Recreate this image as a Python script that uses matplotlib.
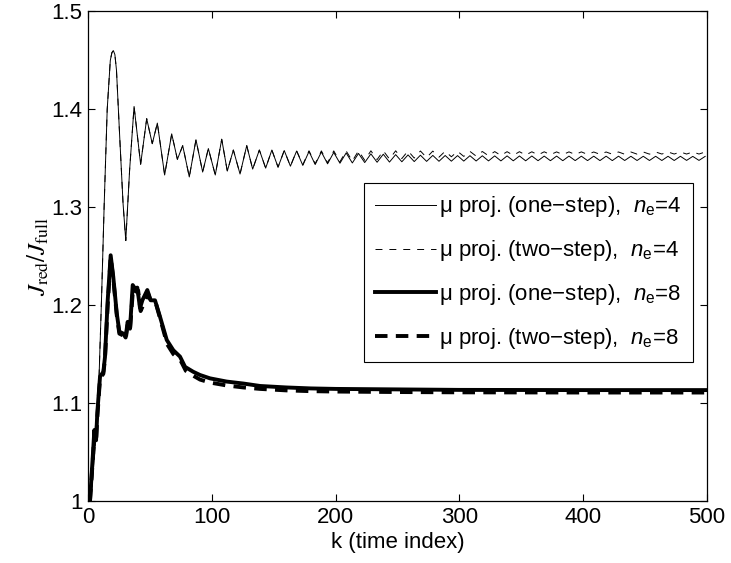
import matplotlib
matplotlib.use("Agg")
import matplotlib.pyplot as plt

plt.rcParams['font.family'] = ['Liberation Sans', 'DejaVu Sans']
plt.rcParams['mathtext.fontset'] = 'custom'
plt.rcParams['mathtext.rm'] = 'Liberation Sans'
plt.rcParams['mathtext.it'] = 'Liberation Sans:italic'
plt.rcParams['lines.scale_dashes'] = False

# n_e = 4: start-up part (both methods coincide here), then peaks/troughs of the ripple
k4_head = [1.5, 3, 6, 9, 11, 13, 15.5, 18, 19.3, 20.5, 21.7, 23, 25.6, 28.3, 30.5, 33.6, 37.2,
           42.5, 47.4, 51.9, 56, 61.9, 67.6, 72.2, 76.5, 81.8, 87.2, 92.6, 97.2, 102.8, 108,
           112.5, 117.4, 122.8, 128.2, 133, 138.4]
y4_head = [1.0, 1.01, 1.06, 1.13, 1.21, 1.30, 1.40, 1.45, 1.458, 1.46, 1.456, 1.44, 1.372, 1.304,
           1.266, 1.338, 1.403, 1.344, 1.3905, 1.365, 1.386, 1.333, 1.375, 1.349, 1.363, 1.331,
           1.369, 1.336, 1.360, 1.333, 1.3695, 1.337, 1.3585, 1.334, 1.363, 1.339, 1.3585]

k4_tail = [143.5, 148.5, 153.5, 158.5, 163.5, 168.5, 173.5, 178.5, 183.5, 188.5, 193.5, 198.5,
           203.5, 208.5, 213.5, 218.5, 223.5, 228.5, 233.5, 238.5, 243.5, 248.5, 253.5, 258.5,
           263.5, 268.5, 273.5, 278.5, 283.5, 288.5, 293.5, 298.5, 303.5, 308.5, 313.5, 318.5,
           323.5, 328.5, 333.5, 338.5, 343.5, 348.5, 353.5, 358.5, 363.5, 368.5, 373.5, 378.5,
           383.5, 388.5, 393.5, 398.5, 403.5, 408.5, 413.5, 418.5, 423.5, 428.5, 433.5, 438.5,
           443.5, 448.5, 453.5, 458.5, 463.5, 468.5, 473.5, 478.5, 483.5, 488.5, 493.5, 498.5]
y4_one_tail = [1.340, 1.3585, 1.341, 1.358, 1.342, 1.3575, 1.3428, 1.357, 1.3437, 1.3565,
               1.3444, 1.356, 1.345, 1.3555, 1.3453, 1.355, 1.3457, 1.3546, 1.346, 1.3542,
               1.3462, 1.3538, 1.3465, 1.3535, 1.3467, 1.3532, 1.3469, 1.353, 1.347, 1.3529,
               1.3471, 1.3528, 1.3472, 1.3527, 1.3473, 1.3526, 1.3474, 1.3525, 1.3474, 1.3525,
               1.3475, 1.3524, 1.3475, 1.3524, 1.3476, 1.3523, 1.3476, 1.3523, 1.3476, 1.3523,
               1.3477, 1.3522, 1.3477, 1.3522, 1.3477, 1.3522, 1.3477, 1.3522, 1.3478, 1.3521,
               1.3478, 1.3521, 1.3478, 1.3521, 1.3478, 1.3521, 1.3478, 1.3521, 1.3479, 1.352,
               1.3479, 1.352]
y4_two_tail = [1.340, 1.3585, 1.341, 1.358, 1.342, 1.3578, 1.3435, 1.3577, 1.3445, 1.3576,
               1.3455, 1.3576, 1.3465, 1.3576, 1.3473, 1.3577, 1.348, 1.3577, 1.3487, 1.3577,
               1.3493, 1.3577, 1.3498, 1.3576, 1.3503, 1.3575, 1.3508, 1.3574, 1.3512, 1.3573,
               1.3516, 1.3572, 1.352, 1.3571, 1.3523, 1.357, 1.3526, 1.3569, 1.3529, 1.3568,
               1.3531, 1.3568, 1.3533, 1.3567, 1.3535, 1.3567, 1.3537, 1.3566, 1.3538, 1.3566,
               1.3539, 1.3566, 1.354, 1.3565, 1.3541, 1.3565, 1.3542, 1.3565, 1.3542, 1.3565,
               1.3543, 1.3565, 1.3543, 1.3565, 1.3544, 1.3565, 1.3544, 1.3565, 1.3544, 1.3565,
               1.3544, 1.3565]

# n_e = 8
k8_one = [1.6, 4.3, 5.1, 6.5, 7.5, 9.7, 12.4, 13.7, 15.9, 18.3, 20.4, 23.2, 25.3, 28.5, 30.4, 32,
          33.9, 36.1, 38, 39.8, 42, 43.9, 47.9, 50.6, 54.1, 58.2, 63.6, 68.9, 74.3, 78.4, 85,
          90.5, 98.5, 112, 125.4, 139, 160, 180, 200, 250, 300, 400, 500]
y8_one = [1.0, 1.055, 1.0725, 1.062, 1.09, 1.127, 1.132, 1.147, 1.205, 1.251, 1.229, 1.192,
          1.173, 1.171, 1.167, 1.183, 1.176, 1.2206, 1.217, 1.218, 1.197, 1.205, 1.2155, 1.205,
          1.205, 1.188, 1.1645, 1.154, 1.1475, 1.137, 1.132, 1.1287, 1.1253, 1.122, 1.120,
          1.1175, 1.116, 1.115, 1.1145, 1.114, 1.1135, 1.1133, 1.1133]
k8_two = [1.6, 4.3, 5.1, 6.5, 7.5, 9.7, 12.4, 13.7, 15.9, 18.3, 20.4, 23.2, 25.3, 28.5, 30.4, 32,
          33.9, 36.5, 38.5, 40.5, 42.5, 44.5, 48.5, 51, 55, 59, 64, 69, 75, 79, 85, 90.5, 98.5,
          112, 125.4, 139, 160, 180, 200, 250, 300, 400, 500]
y8_two = [1.0, 1.05, 1.07, 1.06, 1.085, 1.125, 1.13, 1.145, 1.2, 1.249, 1.227, 1.19, 1.171,
          1.169, 1.165, 1.18, 1.174, 1.219, 1.214, 1.215, 1.194, 1.2, 1.212, 1.203, 1.201, 1.183,
          1.16, 1.15, 1.143, 1.133, 1.128, 1.124, 1.121, 1.118, 1.116, 1.1145, 1.113, 1.1122,
          1.1118, 1.1113, 1.111, 1.1108, 1.1108]

xticks = [0, 100, 200, 300, 400, 500]
yticks = [1.0, 1.1, 1.2, 1.3, 1.4, 1.5]
ytick_labels = ['1', '1.1', '1.2', '1.3', '1.4', '1.5']
labels = [r'μ proj. (one−step),  $n_\mathrm{e}$=4',
          r'μ proj. (two−step),  $n_\mathrm{e}$=4',
          r'μ proj. (one−step),  $n_\mathrm{e}$=8',
          r'μ proj. (two−step),  $n_\mathrm{e}$=8']

fig = plt.figure(figsize=(7.31, 5.63), dpi=100)
ax = fig.add_axes([0.1204, 0.1101, 0.8468, 0.8695])

ax.plot(k4_head + k4_tail, y4_head + y4_one_tail, color='k', lw=0.7, label=labels[0])
ax.plot(k4_head + k4_tail, y4_head + y4_two_tail, color='k', lw=0.7,
        linestyle=(0, (5, 5)), label=labels[1])
ax.plot(k8_one, y8_one, color='k', lw=2.8, label=labels[2])
ax.plot(k8_two, y8_two, color='k', lw=2.8, linestyle=(0, (9, 6)), label=labels[3])

ax.set_xlim(0, 500)
ax.set_ylim(1.0, 1.5)
ax.set_xticks(xticks)
ax.set_yticks(yticks)
ax.set_yticklabels(ytick_labels)
ax.tick_params(direction='in', top=True, right=True, length=5, width=0.8, labelsize=16, pad=4)
for s in ax.spines.values():
    s.set_linewidth(0.9)

ax.set_xlabel('k (time index)', fontsize=16, labelpad=3)
ax.set_ylabel(r'$J_{\rm red}/J_{\rm full}$', fontsize=18, math_fontfamily='stix', labelpad=0)

leg = ax.legend(loc='upper right', bbox_to_anchor=(0.977, 0.649), borderaxespad=0,
                fontsize=16, handlelength=2.75, handletextpad=0.15, labelspacing=0.85,
                fancybox=False, edgecolor='k', framealpha=1, borderpad=0.5)
leg.get_frame().set_linewidth(0.8)

fig.savefig('out.png', dpi=100)
